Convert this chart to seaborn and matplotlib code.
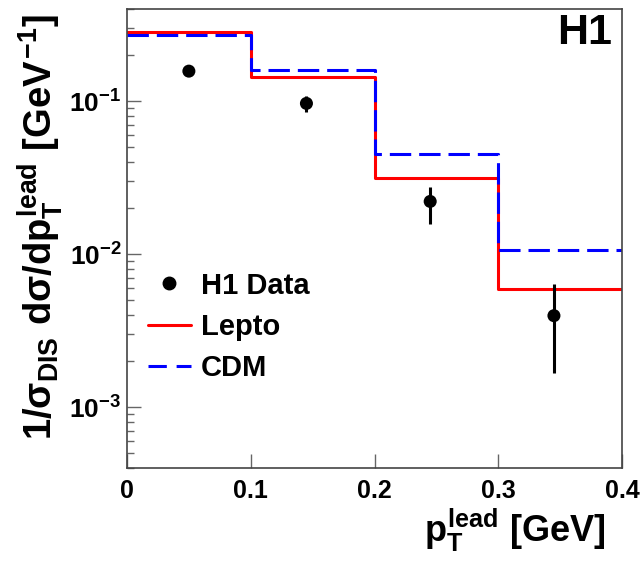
import numpy as np
import pandas as pd
import matplotlib
matplotlib.use("Agg")
import matplotlib.pyplot as plt
import matplotlib.ticker as mticker
from matplotlib.lines import Line2D
import seaborn as sns

# ---- data ----
bin_edges = [0.0, 0.1, 0.2, 0.3, 0.4]
lepto = [0.282, 0.143, 0.0313, 0.0059]
cdm = [0.269, 0.159, 0.0454, 0.0107]
data_x = [0.05, 0.145, 0.245, 0.345]
data_y = [0.157, 0.0966, 0.0221, 0.00396]
data_err_hi = [0.008, 0.012, 0.0055, 0.0024]
data_err_lo = [0.008, 0.012, 0.0063, 0.0023]

sns.set_theme(style="ticks")
plt.rcParams['font.family'] = ['Liberation Sans', 'DejaVu Sans']
plt.rcParams['font.weight'] = 'bold'
plt.rcParams['mathtext.fontset'] = 'custom'
plt.rcParams['mathtext.rm'] = 'Liberation Sans:bold'
plt.rcParams['mathtext.it'] = 'Liberation Sans:bold'
plt.rcParams['mathtext.bf'] = 'Liberation Sans:bold'
plt.rcParams['mathtext.sf'] = 'Liberation Sans:bold'
plt.rcParams['axes.unicode_minus'] = False
for k in ['text.color', 'axes.labelcolor', 'xtick.labelcolor', 'ytick.labelcolor']:
    plt.rcParams[k] = 'black'

fig = plt.figure(figsize=(6.41, 5.63), dpi=100)
ax = fig.add_axes([127/641, 1-468/563, 495/641, 459/563])

df_l = pd.DataFrame({'x': bin_edges, 'y': lepto + [lepto[-1]]})
df_c = pd.DataFrame({'x': bin_edges, 'y': cdm + [cdm[-1]]})
sns.lineplot(data=df_l, x='x', y='y', ax=ax, drawstyle='steps-post',
             color='#ff0000', lw=2.2)
sns.lineplot(data=df_c, x='x', y='y', ax=ax, drawstyle='steps-post',
             color='#0000ff', lw=2.2, dashes=False)
ax.lines[-1].set_dashes([7, 2.6])

ax.errorbar(data_x, data_y, yerr=[data_err_lo, data_err_hi], fmt='none',
            ecolor='black', elinewidth=2.2, capsize=0)
sns.scatterplot(x=data_x, y=data_y, ax=ax, color='black', s=88,
                edgecolor='none', zorder=5)

ax.set_yscale('log')
ax.set_xlim(0, 0.4)
ax.set_ylim(4e-4, 0.4)
ax.set_xticks([0, 0.1, 0.2, 0.3, 0.4])
ax.set_xticklabels(['0', '0.1', '0.2', '0.3', '0.4'])
ax.yaxis.set_major_locator(mticker.LogLocator(base=10, numticks=10))
ax.yaxis.set_minor_locator(mticker.LogLocator(base=10, subs=np.arange(2, 10), numticks=20))
ax.yaxis.set_minor_formatter(mticker.NullFormatter())

ax.tick_params(axis='both', which='major', direction='in', length=10,
               width=1.0, color='#666666', labelsize=18, pad=8)
ax.tick_params(axis='y', which='major', pad=4, labelsize=19)
ax.tick_params(axis='y', which='minor', direction='in', length=5,
               width=1.0, color='#666666')
ax.tick_params(axis='x', which='minor', length=0)
for lab in ax.get_xticklabels() + ax.get_yticklabels():
    lab.set_fontweight('bold')
for sp in ax.spines.values():
    sp.set_visible(True)
    sp.set_color('#444444')
    sp.set_linewidth(1.2)

ax.set_ylabel(r'$1/\sigma_{DIS}\ d\sigma/dp_{T}^{lead}\ [GeV^{-1}]$', fontsize=27.5)
ax.yaxis.set_label_coords(-0.125, 0.525)
ax.set_xlabel(r'$p_{T}^{lead}$ [GeV]', fontsize=26, fontweight='bold', loc='right')
ax.xaxis.set_label_coords(0.966, -0.085)

ax.text(0.98, 0.992, 'H1', transform=ax.transAxes, ha='right', va='top',
        fontsize=31, fontweight='bold')

handles = [
    Line2D([], [], marker='o', color='black', ls='none', markersize=9),
    Line2D([], [], color='#ff0000', lw=2.2),
    Line2D([], [], color='#0000ff', lw=2.2, dashes=[6, 3.2]),
]
ax.legend(handles, ['H1 Data', 'Lepto', 'CDM'], loc='upper left',
          bbox_to_anchor=(-0.01, 0.485), frameon=False,
          handlelength=1.45, labelspacing=0.45, handletextpad=0.35,
          prop={'weight': 'bold', 'size': 21})

fig.savefig('out.png', dpi=100)
